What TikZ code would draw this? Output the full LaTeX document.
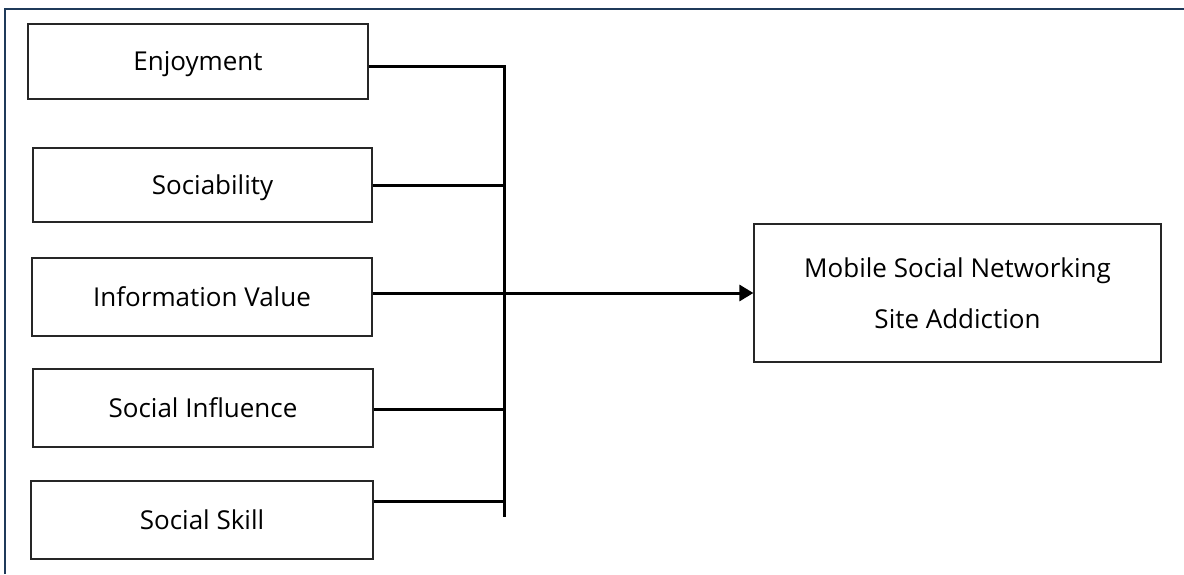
\documentclass[tikz,border=0pt]{standalone}
\usepackage{fontspec}
\setmainfont{Open Sans}
\usetikzlibrary{arrows.meta}
\begin{document}
\begin{tikzpicture}[x=1pt,y=-1pt,
  box/.style={draw=black!85,line width=1.2pt,fill=white,inner sep=0pt,align=center,font=\fontsize{26}{51}\selectfont},
  one/.style={text height=18.5pt,text depth=0pt},
  link/.style={line width=3pt,black},
  frame/.style={line width=2.5pt,draw=frameblue}]
\definecolor{frameblue}{HTML}{1F3A5A}
\useasboundingbox (0,0) rectangle (1184,574);
\draw[frame] (5,574) -- (5,9) -- (1184,9);
\node[box,one,minimum width=340pt,minimum height=75pt] (E) at (198,61.5) {Enjoyment};
\node[box,one,minimum width=339pt,minimum height=74pt] (S) at (202.5,185) {\hspace*{20pt}Sociability};
\node[box,one,minimum width=340pt,minimum height=78pt] (I) at (202,297) {Information Value};
\node[box,one,minimum width=340pt,minimum height=78pt] (SI) at (203,408) {Social Influence};
\node[box,one,minimum width=342pt,minimum height=78pt] (SS) at (202,520) {Social Skill};
\node[box,minimum width=407pt,minimum height=138pt] (M) at (957.5,293) {Mobile Social Networking\\Site Addiction};
\coordinate (btop) at (504,65);
\coordinate (bbot) at (504,517);
\coordinate (b1) at (504,66);
\coordinate (b2) at (504,185);
\coordinate (b4) at (504,409);
\coordinate (b5) at (504,501);
\draw[link] (btop) -- (bbot);
\draw[link] (E.east |- b1) -- (b1);
\draw[link] (S.east |- b2) -- (b2);
\draw[link] (SI.east |- b4) -- (b4);
\draw[link] (SS.east |- b5) -- (b5);
\draw[link,-{Triangle[length=14pt,width=16pt]}] (I.east |- M.west) -- (M.west);
\end{tikzpicture}
\end{document}
